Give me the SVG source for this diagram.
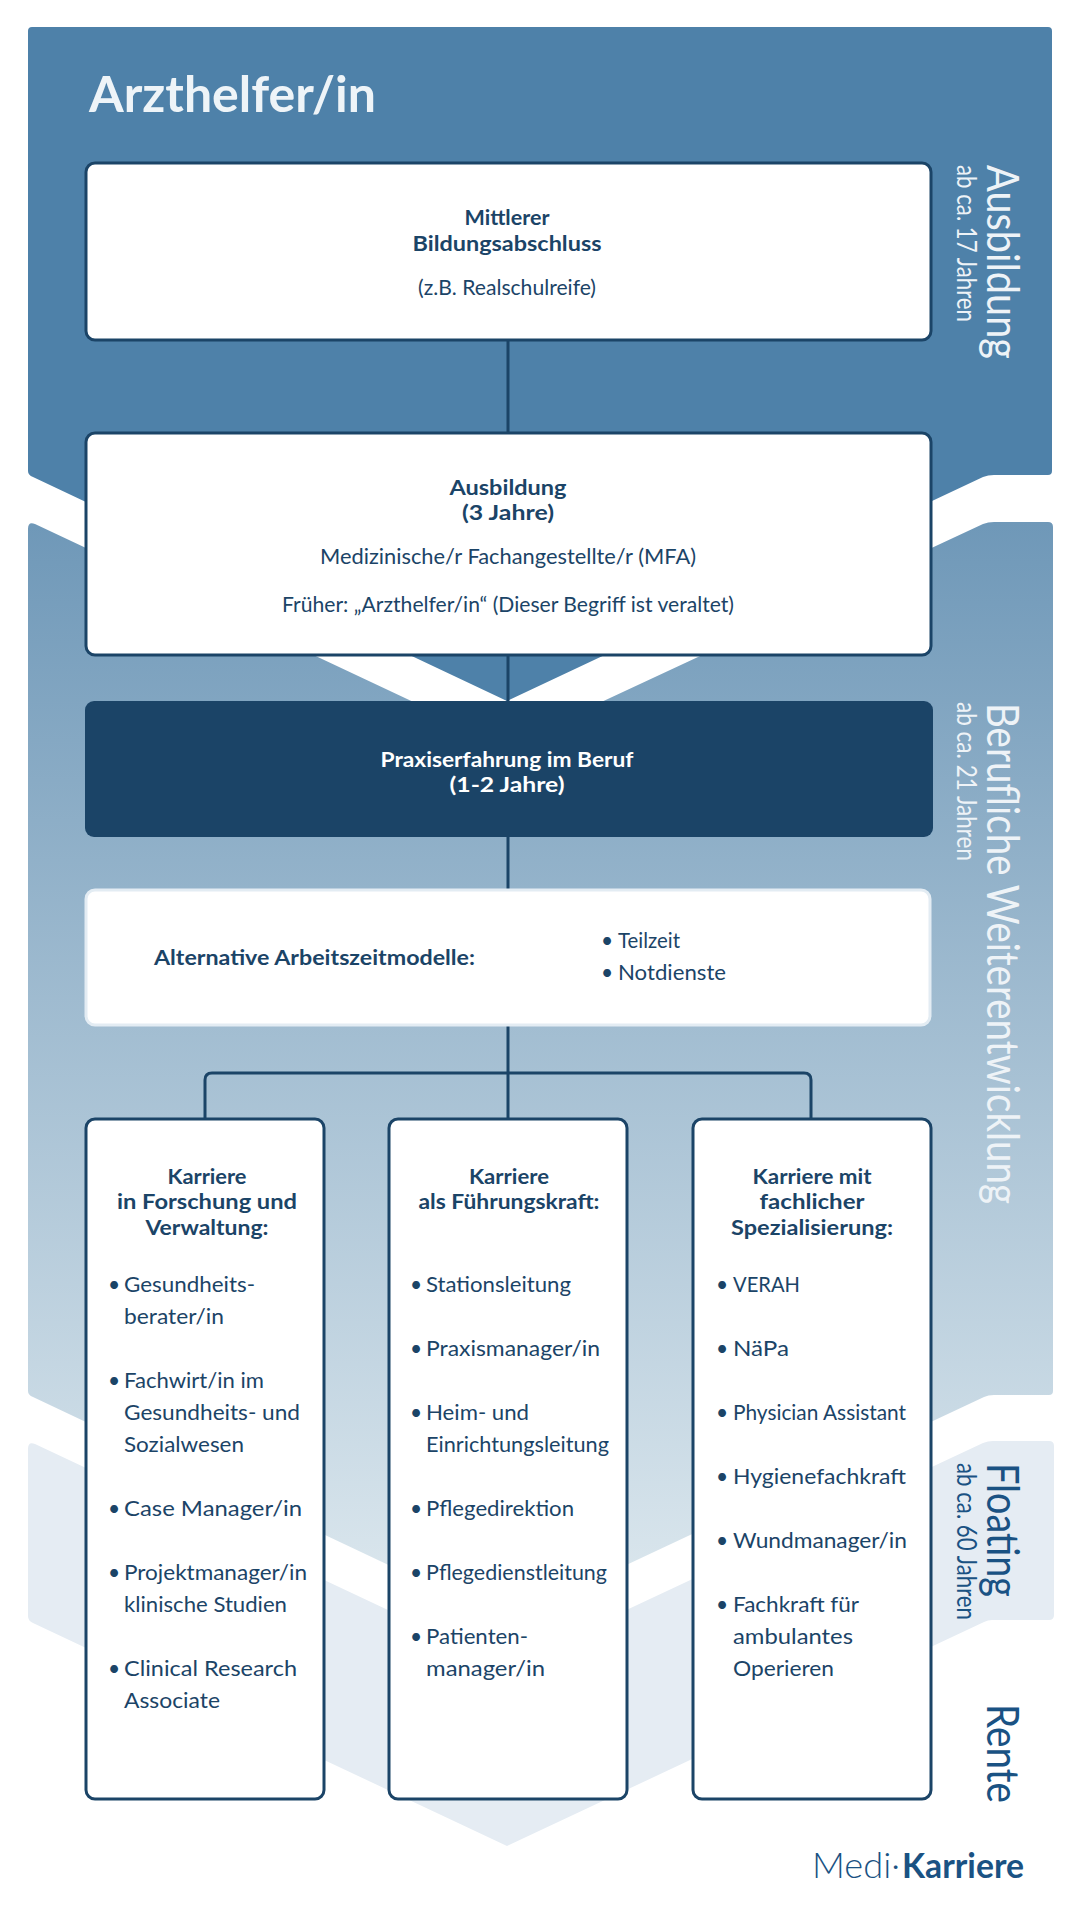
<svg xmlns="http://www.w3.org/2000/svg" width="1080" height="1920" viewBox="0 0 1080 1920">
<style>
text{font-family:"Lato","Liberation Sans",sans-serif;fill:#1b4467;font-size:21px}
.b{font-weight:700}
.c{text-anchor:middle}
.w{fill:#fff}
.t{font-size:50px;font-weight:700;fill:#eef4f8}
.v{font-size:45px;font-weight:400}
.s{font-size:26px;font-weight:400}
.wl{fill:#eef3f7}
.dk{fill:#1a5283}
.box{fill:#fff;stroke:#1b4467;stroke-width:3}
.conn{fill:none;stroke:#1b4467;stroke-width:3}
</style>
<defs>
<linearGradient id="g2" gradientUnits="userSpaceOnUse" x1="0" y1="523" x2="0" y2="1621">
<stop offset="0" stop-color="#6f98b8"/><stop offset="1" stop-color="#dee9ef"/>
</linearGradient>
</defs>
<g id="bands">
<path fill="#e5ecf3" d="M28 1449Q28 1441 35 1444L507 1666L983 1443Q988 1441 993 1441H1049Q1054 1441 1054 1446V1615Q1054 1620 1049 1620H992Q988 1620 984 1622L507 1846L33 1623Q28 1621 28 1616Z"/>
<path fill="url(#g2)" d="M28 529Q28 521 35 524L507 746L983 524Q988 522 994 522H1048Q1053 522 1053 527V1391Q1053 1395 1049 1395H994Q988 1395 984 1397L507 1621L33 1397Q28 1395 28 1391Z"/>
<path fill="#4e81a9" d="M32 27H1048Q1052 27 1052 31V471Q1052 475 1048 475H994Q988 475 983 477L507 701L33 477Q28 475 28 471V31Q28 27 32 27Z"/>
</g>
<g id="connectors">
<path class="conn" d="M508 340V432M508 656V701M508 836V889M508 1025V1119M205 1119V1080Q205 1073 212 1073H804Q811 1073 811 1080V1119"/>
</g>
<text class="t" x="89" y="112" textLength="287" lengthAdjust="spacingAndGlyphs">Arzthelfer/in</text>
<g id="node-mittlerer">
<rect class="box" x="86" y="163" width="845" height="177" rx="9"/>
<text class="b c" x="507" y="225" textLength="85" lengthAdjust="spacingAndGlyphs">Mittlerer</text>
<text class="b c" x="507" y="251" textLength="189" lengthAdjust="spacingAndGlyphs">Bildungsabschluss</text>
<text class="c" x="507" y="295" textLength="178" lengthAdjust="spacingAndGlyphs">(z.B. Realschulreife)</text>
</g>
<g id="node-ausbildung">
<rect class="box" x="86" y="433" width="845" height="222" rx="9"/>
<text class="b c" x="508" y="495" textLength="117" lengthAdjust="spacingAndGlyphs">Ausbildung</text>
<text class="b c" x="508" y="520" textLength="92" lengthAdjust="spacingAndGlyphs">(3 Jahre)</text>
<text class="c" x="508" y="564" textLength="376" lengthAdjust="spacingAndGlyphs">Medizinische/r Fachangestellte/r (MFA)</text>
<text class="c" x="508" y="612" textLength="452" lengthAdjust="spacingAndGlyphs">Früher: „Arzthelfer/in“ (Dieser Begriff ist veraltet)</text>
</g>
<g id="node-praxis">
<rect x="85" y="701" width="848" height="136" rx="9" fill="#1b4467"/>
<text class="b c w" x="507" y="767" textLength="253" lengthAdjust="spacingAndGlyphs">Praxiserfahrung im Beruf</text>
<text class="b c w" x="507" y="792" textLength="115" lengthAdjust="spacingAndGlyphs">(1-2 Jahre)</text>
</g>
<g id="node-arbeitszeit">
<rect x="86" y="890" width="844" height="135" rx="9" fill="#fff" stroke="#e3ecf3" stroke-width="3"/>
<text class="b" x="154" y="965" textLength="321" lengthAdjust="spacingAndGlyphs">Alternative Arbeitszeitmodelle:</text>
<text y="948"><tspan x="601">•</tspan><tspan x="618" textLength="62" lengthAdjust="spacingAndGlyphs">Teilzeit</tspan></text>
<text y="980"><tspan x="601">•</tspan><tspan x="618" textLength="108" lengthAdjust="spacingAndGlyphs">Notdienste</tspan></text>
</g>
<g id="node-forschung">
<rect class="box" x="86" y="1119" width="238" height="680" rx="9"/>
<text class="b c" x="207" y="1184" textLength="79" lengthAdjust="spacingAndGlyphs">Karriere</text>
<text class="b c" x="207" y="1209" textLength="180" lengthAdjust="spacingAndGlyphs">in Forschung und</text>
<text class="b c" x="207" y="1235" textLength="123" lengthAdjust="spacingAndGlyphs">Verwaltung:</text>
<text y="1292"><tspan x="108">•</tspan><tspan x="124" textLength="131" lengthAdjust="spacingAndGlyphs">Gesundheits-</tspan></text>
<text x="124" y="1324" textLength="100" lengthAdjust="spacingAndGlyphs">berater/in</text>
<text y="1388"><tspan x="108">•</tspan><tspan x="124" textLength="140" lengthAdjust="spacingAndGlyphs">Fachwirt/in im</tspan></text>
<text x="124" y="1420" textLength="176" lengthAdjust="spacingAndGlyphs">Gesundheits- und</text>
<text x="124" y="1452" textLength="120" lengthAdjust="spacingAndGlyphs">Sozialwesen</text>
<text y="1516"><tspan x="108">•</tspan><tspan x="124" textLength="178" lengthAdjust="spacingAndGlyphs">Case Manager/in</tspan></text>
<text y="1580"><tspan x="108">•</tspan><tspan x="124" textLength="183" lengthAdjust="spacingAndGlyphs">Projektmanager/in</tspan></text>
<text x="124" y="1612" textLength="163" lengthAdjust="spacingAndGlyphs">klinische Studien</text>
<text y="1676"><tspan x="108">•</tspan><tspan x="124" textLength="173" lengthAdjust="spacingAndGlyphs">Clinical Research</tspan></text>
<text x="124" y="1708" textLength="96" lengthAdjust="spacingAndGlyphs">Associate</text>
</g>
<g id="node-fuehrung">
<rect class="box" x="389" y="1119" width="238" height="680" rx="9"/>
<text class="b c" x="509" y="1184" textLength="80" lengthAdjust="spacingAndGlyphs">Karriere</text>
<text class="b c" x="509" y="1209" textLength="181" lengthAdjust="spacingAndGlyphs">als Führungskraft:</text>
<text y="1292"><tspan x="410">•</tspan><tspan x="426" textLength="145" lengthAdjust="spacingAndGlyphs">Stationsleitung</tspan></text>
<text y="1356"><tspan x="410">•</tspan><tspan x="426" textLength="174" lengthAdjust="spacingAndGlyphs">Praxismanager/in</tspan></text>
<text y="1420"><tspan x="410">•</tspan><tspan x="426" textLength="103" lengthAdjust="spacingAndGlyphs">Heim- und</tspan></text>
<text x="426" y="1452" textLength="183" lengthAdjust="spacingAndGlyphs">Einrichtungsleitung</text>
<text y="1516"><tspan x="410">•</tspan><tspan x="426" textLength="148" lengthAdjust="spacingAndGlyphs">Pflegedirektion</tspan></text>
<text y="1580"><tspan x="410">•</tspan><tspan x="426" textLength="181" lengthAdjust="spacingAndGlyphs">Pflegedienstleitung</tspan></text>
<text y="1644"><tspan x="410">•</tspan><tspan x="426" textLength="102" lengthAdjust="spacingAndGlyphs">Patienten-</tspan></text>
<text x="426" y="1676" textLength="119" lengthAdjust="spacingAndGlyphs">manager/in</text>
</g>
<g id="node-spezialisierung">
<rect class="box" x="693" y="1119" width="238" height="680" rx="9"/>
<text class="b c" x="812" y="1184" textLength="119" lengthAdjust="spacingAndGlyphs">Karriere mit</text>
<text class="b c" x="812" y="1209" textLength="105" lengthAdjust="spacingAndGlyphs">fachlicher</text>
<text class="b c" x="812" y="1235" textLength="162" lengthAdjust="spacingAndGlyphs">Spezialisierung:</text>
<text y="1292"><tspan x="716">•</tspan><tspan x="733" textLength="67" lengthAdjust="spacingAndGlyphs">VERAH</tspan></text>
<text y="1356"><tspan x="716">•</tspan><tspan x="733" textLength="56" lengthAdjust="spacingAndGlyphs">NäPa</tspan></text>
<text y="1420"><tspan x="716">•</tspan><tspan x="733" textLength="173" lengthAdjust="spacingAndGlyphs">Physician Assistant</tspan></text>
<text y="1484"><tspan x="716">•</tspan><tspan x="733" textLength="173" lengthAdjust="spacingAndGlyphs">Hygienefachkraft</tspan></text>
<text y="1548"><tspan x="716">•</tspan><tspan x="733" textLength="174" lengthAdjust="spacingAndGlyphs">Wundmanager/in</tspan></text>
<text y="1612"><tspan x="716">•</tspan><tspan x="733" textLength="126" lengthAdjust="spacingAndGlyphs">Fachkraft für</tspan></text>
<text x="733" y="1644" textLength="120" lengthAdjust="spacingAndGlyphs">ambulantes</text>
<text x="733" y="1676" textLength="101" lengthAdjust="spacingAndGlyphs">Operieren</text>
</g>
<g id="labels">
<text class="v wl" transform="translate(987 165) rotate(90)" textLength="194" lengthAdjust="spacingAndGlyphs">Ausbildung</text>
<text class="s wl" transform="translate(957 165) rotate(90)" textLength="157" lengthAdjust="spacingAndGlyphs">ab ca. 17 Jahren</text>
<text class="v wl" transform="translate(987 703) rotate(90)" textLength="501" lengthAdjust="spacingAndGlyphs">Berufliche Weiterentwicklung</text>
<text class="s wl" transform="translate(957 702) rotate(90)" textLength="159" lengthAdjust="spacingAndGlyphs">ab ca. 21 Jahren</text>
<text class="v dk" transform="translate(987 1463) rotate(90)" textLength="134" lengthAdjust="spacingAndGlyphs">Floating</text>
<text class="s dk" transform="translate(957 1463) rotate(90)" textLength="157" lengthAdjust="spacingAndGlyphs">ab ca. 60 Jahren</text>
<text class="v dk" transform="translate(987 1704) rotate(90)" textLength="99" lengthAdjust="spacingAndGlyphs">Rente</text>
</g>
<text class="dk" y="1878" style="font-size:35px"><tspan x="812" textLength="88" lengthAdjust="spacingAndGlyphs" style="font-weight:300">Medi·</tspan><tspan x="902" textLength="122" lengthAdjust="spacingAndGlyphs" style="font-weight:700">Karriere</tspan></text>
</svg>
